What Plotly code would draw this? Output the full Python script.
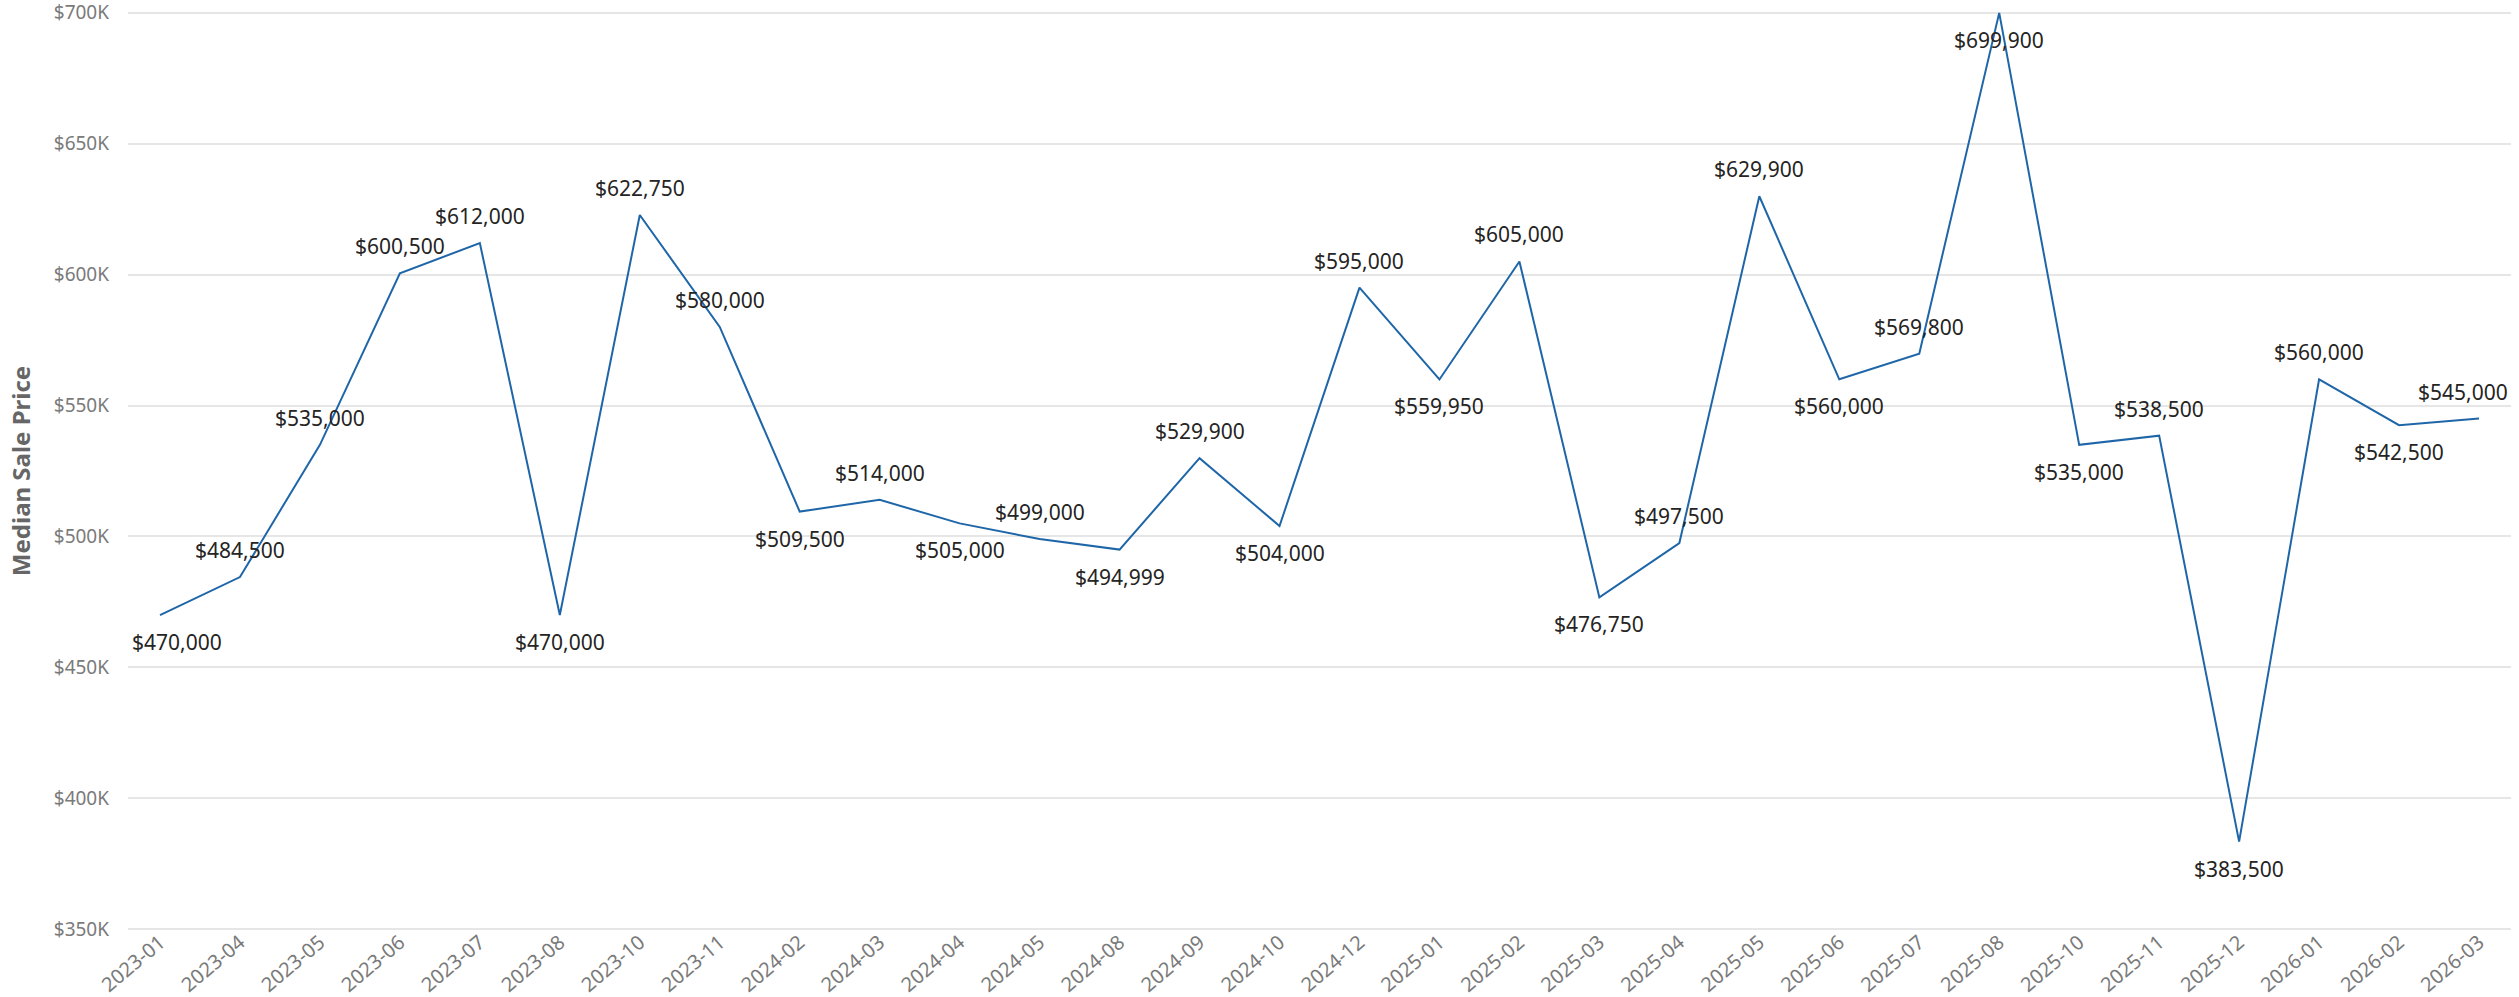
import plotly.graph_objects as go

months = ["2023-01", "2023-04", "2023-05", "2023-06", "2023-07", "2023-08", "2023-10", "2023-11",
          "2024-02", "2024-03", "2024-04", "2024-05", "2024-08", "2024-09", "2024-10", "2024-12",
          "2025-01", "2025-02", "2025-03", "2025-04", "2025-05", "2025-06", "2025-07", "2025-08",
          "2025-10", "2025-11", "2025-12", "2026-01", "2026-02", "2026-03"]
median_price = [470000, 484500, 535000, 600500, 612000, 470000, 622750, 580000,
                509500, 514000, 505000, 499000, 494999, 529900, 504000, 595000,
                559950, 605000, 476750, 497500, 629900, 560000, 569800, 699900,
                535000, 538500, 383500, 560000, 542500, 545000]
# label placement: 1 = above the point, -1 = below
label_side = [-1, 1, 1, 1, 1, -1, 1, 1,
              -1, 1, -1, 1, -1, 1, -1, 1,
              -1, 1, -1, 1, 1, -1, 1, -1,
              -1, 1, -1, 1, -1, 1]
y_ticks = [350000, 400000, 450000, 500000, 550000, 600000, 650000, 700000]
y_tick_labels = ["$350K", "$400K", "$450K", "$500K", "$550K", "$600K", "$650K", "$700K"]

FONT = "Segoe UI, Noto Sans, Open Sans, sans-serif"
LINE_COLOR = "#1f66a8"

fig = go.Figure()
fig.add_trace(go.Scatter(
    x=months, y=median_price, mode="lines",
    line=dict(color=LINE_COLOR, width=2),
    hoverinfo="x+y", showlegend=False, cliponaxis=False,
))

annotations = []
n = len(months)
for i, (m, v, s) in enumerate(zip(months, median_price, label_side)):
    xanchor = "center"
    xshift = 0
    if i == 0:
        xanchor, xshift = "left", -30
    elif i == n - 1:
        xanchor, xshift = "right", 31
    annotations.append(dict(
        x=m, y=v, xref="x", yref="y", text=f"${v:,.0f}", showarrow=False,
        xanchor=xanchor, yanchor="middle", xshift=xshift, yshift=27 * s,
        font=dict(family=FONT, size=21, color="#252423"),
    ))

fig.update_layout(
    width=2519, height=997,
    margin=dict(l=128, r=8, t=10, b=65, autoexpand=False),
    paper_bgcolor="white", plot_bgcolor="white",
    annotations=annotations,
    font=dict(family=FONT),
)
fig.update_xaxes(
    type="category", range=[-0.4, n - 1 + 0.4],
    showgrid=False, showline=False, zeroline=False, ticks="",
    tickangle=-40, ticklabelstandoff=-6,
    tickfont=dict(family=FONT, size=20, color="#7a7a7a"),
    automargin=False,
)
fig.update_yaxes(
    range=[349000, 701000], tickvals=y_ticks, ticktext=y_tick_labels,
    showgrid=True, gridcolor="#e6e6e6", gridwidth=1.5,
    showline=False, zeroline=False, ticks="",
    ticklabelstandoff=18, ticklabeloverflow="allow",
    tickfont=dict(family=FONT, size=19, color="#7a7a7a"),
    title=dict(text="<b>Median Sale Price</b>", standoff=16,
               font=dict(family=FONT, size=24, color="#666666")),
    automargin=False,
)

fig.write_html("out.html")
